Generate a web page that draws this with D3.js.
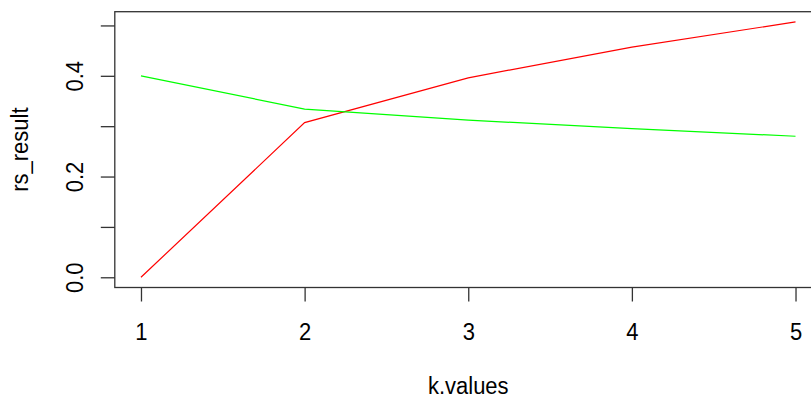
<!DOCTYPE html>
<html>
<head>
<meta charset="utf-8">
<script src="https://cdn.jsdelivr.net/npm/d3@7"></script>
<style>
  body { margin: 0; background: #fff; }
  svg { display: block; }
  text { font-family: "Liberation Sans", Arial, sans-serif; fill: #000; }
</style>
</head>
<body>
<div id="chart"></div>
<script>
var kValues = [1, 2, 3, 4, 5];
var redSeries = [0.0, 0.307, 0.396, 0.457, 0.507];
var greenSeries = [0.400, 0.334, 0.312, 0.295, 0.280];
var xTicks = [1, 2, 3, 4, 5];
var yTicks = [0, 0.1, 0.2, 0.3, 0.4, 0.5];
var yLabels = [0, 0.2, 0.4];

var width = 811, height = 398;
// plot box, right side runs past the picture edge like in the original
var box = { left: 114.8, right: 821.7, top: 11.7, bottom: 287.5 };
var tall = " scale(1,1.12)"; // glyphs in the original are a bit taller than wide

var svg = d3.select("#chart").append("svg")
    .attr("width", width)
    .attr("height", height);

// R style 4% padding on both axes
var xr = [1, 5], xpad = (xr[1] - xr[0]) * 0.04;
var yr = [0, d3.max(redSeries.concat(greenSeries))], ypad = (yr[1] - yr[0]) * 0.04;

var x = d3.scaleLinear()
    .domain([xr[0] - xpad, xr[1] + xpad])
    .range([box.left, box.right]);
var y = d3.scaleLinear()
    .domain([yr[0] - ypad, yr[1] + ypad])
    .range([box.bottom, box.top]);

var line = d3.line()
    .x(function(d, i){ return x(kValues[i]); })
    .y(function(d){ return y(d); });

svg.append("path")
    .datum(redSeries)
    .attr("d", line)
    .attr("fill", "none")
    .attr("stroke", "#ff0000")
    .attr("stroke-width", 1.2);

svg.append("path")
    .datum(greenSeries)
    .attr("d", line)
    .attr("fill", "none")
    .attr("stroke", "#00ff00")
    .attr("stroke-width", 1.2);

svg.append("rect")
    .attr("x", box.left)
    .attr("y", box.top)
    .attr("width", box.right - box.left)
    .attr("height", box.bottom - box.top)
    .attr("fill", "none")
    .attr("stroke", "#333")
    .attr("stroke-width", 1.3);

// x axis
var xAxis = svg.append("g")
    .attr("transform", "translate(0," + box.bottom + ")")
    .call(d3.axisBottom(x).tickValues(xTicks).tickSize(14).tickFormat(d3.format("d")));
xAxis.select(".domain").remove();
xAxis.selectAll(".tick line").attr("stroke", "#333").attr("stroke-width", 1.3);
xAxis.selectAll(".tick text")
    .attr("y", null)
    .attr("dy", null)
    .attr("transform", "translate(0,52)" + tall)
    .style("font-size", "22px")
    .style("font-family", "'Liberation Sans', Arial, sans-serif");

// y axis
var yAxis = svg.append("g")
    .attr("transform", "translate(" + box.left + ",0)")
    .call(d3.axisLeft(y).tickValues(yTicks).tickSize(14)
        .tickFormat(function(d){ return yLabels.indexOf(d) >= 0 ? d3.format(".1f")(d) : ""; }));
yAxis.select(".domain").remove();
yAxis.selectAll(".tick line").attr("stroke", "#333").attr("stroke-width", 1.3);
yAxis.selectAll(".tick text")
    .attr("x", null)
    .attr("dy", null)
    .attr("text-anchor", "middle")
    .attr("transform", "translate(-32,0) rotate(-90)" + tall)
    .style("font-size", "22px")
    .style("font-family", "'Liberation Sans', Arial, sans-serif");

svg.append("text")
    .attr("transform", "translate(" + ((box.left + box.right) / 2) + ",394)" + tall)
    .attr("text-anchor", "middle")
    .style("font-size", "22px")
    .text("k.values");

svg.append("text")
    .attr("transform", "translate(28," + ((box.top + box.bottom) / 2) + ") rotate(-90)" + tall)
    .attr("text-anchor", "middle")
    .style("font-size", "22px")
    .text("rs_result");
</script>
</body>
</html>
